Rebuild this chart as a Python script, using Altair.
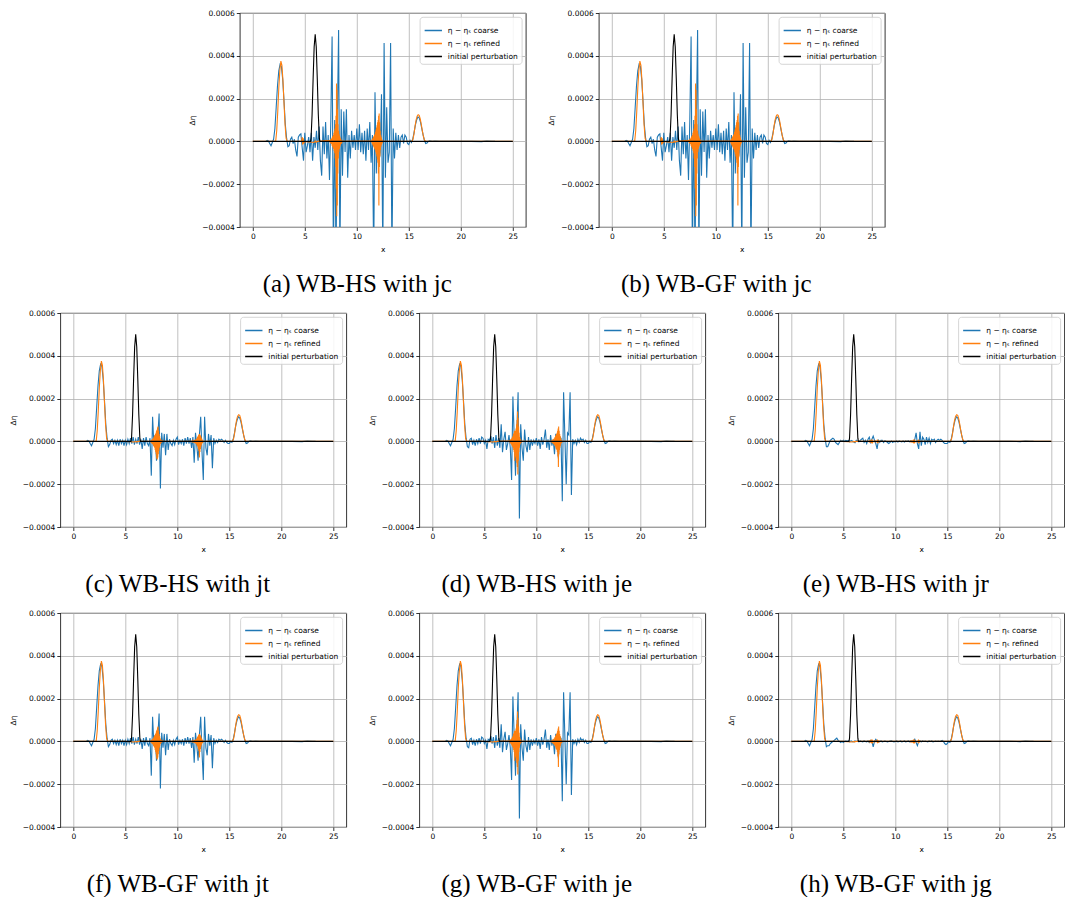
import altair as alt
import pandas as pd

# ---------------- data (values in units of 1e-4) ----------------
SCALE = 1e-4

CAPTIONS = ["(a) WB-HS with jc", "(b) WB-GF with jc", "(c) WB-HS with jt",
            "(d) WB-HS with je", "(e) WB-HS with jr", "(f) WB-GF with jt",
            "(g) WB-GF with je", "(h) WB-GF with jg"]
SERIES = ["η − ηₛ coarse", "η − ηₛ refined", "initial perturbation"]
COLORS = ["#1f77b4", "#ff7f0e", "#000000"]

# initial perturbation
PERT_X = [0.0, 5.55, 5.6, 5.7, 5.8, 5.9, 6.0, 6.1, 6.2, 6.3, 6.4, 6.45, 25.0]
PERT_Y = [0.0, 0.0, 0.15, 1.25, 2.93, 4.42, 5.0, 4.42, 2.93, 1.25, 0.15, 0.0, 0.0]

# coarse: shared left bump and right bump/tail
COARSE_PRE_X = [1.25, 1.375, 1.5, 1.625, 1.75, 1.875, 2.0, 2.125, 2.25, 2.375,
                2.5, 2.625, 2.75, 2.875, 3.0, 3.125, 3.25, 3.375]
COARSE_PRE_Y = [0.0, 0.05, 0.02, -0.1, -0.2, -0.05, 0.1, 0.6, 1.6, 2.6,
                3.3, 3.6, 3.5, 2.9, 1.9, 0.8, 0.15, -0.25]
COARSE_POST_X = [15.375, 15.5, 15.625, 15.75, 15.875, 16.0, 16.125, 16.25, 16.375,
                 16.5, 16.625, 16.75, 16.875, 17.0, 17.25, 17.5, 18.0, 18.5, 19.0,
                 20.0, 21.0, 22.0, 22.5, 23.0, 23.3]
COARSE_POST_Y = [0.1, 0.4, 0.75, 1.0, 1.15, 1.1, 0.9, 0.6, 0.3,
                 0.05, -0.1, -0.08, 0.0, 0.03, 0.0, 0.02, 0.0, 0.01, 0.0,
                 0.005, 0.0, -0.01, 0.02, 0.0, 0.01]

COARSE_MID_X = [3.5, 3.625, 3.75, 3.875,
                4.0, 4.125, 4.25, 4.375, 4.5, 4.625, 4.75, 4.875,
                5.0, 5.125, 5.25, 5.375, 5.5, 5.625, 5.75, 5.875,
                6.0, 6.125, 6.25, 6.375, 6.5, 6.625, 6.75, 6.875,
                7.0, 7.125, 7.25, 7.375, 7.5, 7.625, 7.75, 7.875,
                8.0, 8.125, 8.25, 8.375, 8.5, 8.625, 8.75, 8.875,
                9.0, 9.125, 9.25, 9.375, 9.5, 9.625, 9.75, 9.875,
                10.0, 10.125, 10.25, 10.375, 10.5, 10.625, 10.75, 10.875,
                11.0, 11.125, 11.25, 11.375, 11.5, 11.625, 11.75, 11.875,
                12.0, 12.125, 12.25, 12.375, 12.5, 12.625, 12.75, 12.875,
                13.0, 13.125, 13.25, 13.375, 13.5, 13.625, 13.75, 13.875,
                14.0, 14.125, 14.25, 14.375, 14.5, 14.625, 14.75, 14.875,
                15.0, 15.125, 15.25]

COARSE_JC = [-0.2, 0.1, 0.2, -0.1,
             0.1, -0.4, -0.7, 0.2, 0.3, 0.35, -0.3, -0.9,
             0.4, -0.5, -0.2, 0.2, -0.5, 0.4, -0.9, 0.2,
             -0.3, 0.5, -0.4, 0.7, -0.9, -1.6, 0.7, -0.6,
             0.9, -0.8, 0.3, -1.8, 0.95, 4.9, -5.5, 1.0,
             -5.5, 0.8, 5.2, -5.5, 1.5, -1.6, 1.4, -0.5,
             1.5, -1.7, 0.3, -0.8, 0.5, -0.3, 0.3, -0.4,
             0.6, -0.4, 0.8, -0.5, 0.4, -0.6, 0.5, -0.9,
             0.6, -0.4, 0.9, -1.0, 0.3, -5.5, 2.3, -1.5,
             0.5, -1.0, -0.5, 2.2, -5.5, 4.6, -1.7, 1.6,
             -1.0, -0.5, 4.6, -5.5, 0.6, -0.8, 0.4, -0.4,
             0.3, -0.3, 0.2, 0.3, -0.1, 0.3, 0.2, -0.1,
             -0.15, 0.05, -0.05]

COARSE_JT = [-0.15, 0.05, 0.1, -0.1,
             0.05, -0.15, 0.05, -0.2, 0.1, -0.1, 0.05, -0.2,
             0.05, -0.15, 0.1, -0.1, 0.15, -0.1, 0.2, -0.15,
             0.1, -0.1, 0.2, -0.15, 0.1, -0.35, 0.15, -0.2,
             0.2, -0.1, -0.2, 0.15, -1.6, 1.15, -0.2, 0.3,
             -0.9, 0.2, 1.3, -2.2, 0.4, -0.3, 0.35, -0.65,
             0.35, -0.4, 0.1, -0.1, -0.2, 0.05, -0.15, 0.1,
             0.2, -0.15, 0.05, -0.1, 0.1, -0.2, 0.15, -0.1,
             0.2, -0.1, 0.15, -0.3, 0.2, -1.0, 0.4, -0.2,
             -0.9, 0.3, 1.15, -0.5, -1.8, 1.15, -0.3, -0.65,
             0.35, -0.2, 0.3, -1.25, 0.15, -0.1, 0.05, -0.05,
             0.1, 0.05, 0.1, 0.05, -0.05, 0.05, -0.05, -0.1,
             -0.1, 0.0, -0.05]

COARSE_JE = [-0.3, 0.1, 0.15, -0.15,
             0.05, -0.2, 0.1, -0.1, 0.15, -0.1, 0.2, 0.15,
             -0.1, 0.05, -0.35, 0.1, 0.05, 0.25, -0.1, 0.2,
             -0.3, 0.3, -0.2, 0.15, -0.3, 0.8, -0.5, 0.1,
             0.45, -0.4, -0.1, 0.3, -0.3, -1.8, 2.1, 0.2,
             -1.6, 0.5, 2.3, -3.6, 0.8, -0.3, -0.9, 0.55,
             -0.2, -0.5, 0.2, -0.4, 0.1, -0.2, 0.05, -0.1,
             0.15, -0.2, 0.1, -0.35, 0.2, -0.15, 0.1, 0.55,
             -0.3, 0.1, -0.4, 0.3, -0.2, 0.1, -0.6, 0.35,
             0.1, -0.8, 0.2, 0.15, -2.8, 2.3, 0.2, -2.0,
             0.4, 0.3, 2.3, -2.5, 0.1, -0.1, 0.05, -0.15,
             0.1, -0.05, 0.15, 0.05, 0.1, -0.05, 0.05, -0.1,
             -0.1, 0.0, -0.05]

COARSE_JR = [-0.25, -0.1, 0.05, 0.1,
             0.15, 0.1, -0.05, -0.1, -0.15, -0.05, 0.05, 0.0,
             0.05, 0.0, 0.05, 0.02, 0.05, -0.02, 0.05, 0.02,
             -0.03, -0.06, 0.05, 0.02, -0.02, 0.05, 0.1, 0.15,
             -0.05, 0.05, -0.1, 0.1, 0.2, -0.05, 0.1, 0.25,
             0.05, -0.1, -0.35, 0.05, -0.05, 0.05, 0.05, -0.05,
             0.03, 0.0, -0.05, -0.1, -0.05, 0.02, -0.05, 0.0,
             -0.02, 0.02, -0.03, 0.02, 0.0, -0.02, 0.02, -0.03,
             0.02, 0.0, 0.03, -0.02, 0.02, 0.0, -0.03, 0.1,
             0.4, -0.1, -0.35, 0.45, -0.2, 0.2, 0.1, -0.15,
             0.2, -0.05, 0.15, -0.1, 0.1, 0.05, 0.1, -0.05,
             0.05, 0.1, 0.05, 0.1, 0.05, -0.05, -0.1, -0.1,
             -0.1, 0.0, -0.05]

COARSE_JG = [-0.2, -0.2, -0.1, -0.05,
             0.0, 0.05, 0.1, 0.15, 0.05, 0.0, -0.05, 0.0,
             -0.05, 0.0, 0.02, 0.0, 0.02, -0.02, 0.02, 0.0,
             -0.02, 0.02, 0.0, 0.02, -0.02, 0.02, 0.0, -0.02,
             0.02, 0.0, -0.02, 0.02, -0.05, 0.05, 0.0, -0.25,
             0.0, 0.1, 0.0, -0.03, 0.0, 0.02, -0.02, 0.0,
             0.02, 0.0, -0.02, 0.0, 0.02, 0.03, 0.0, -0.02,
             0.0, 0.02, -0.02, 0.0, 0.02, -0.02, 0.0, 0.02,
             -0.02, 0.0, 0.02, -0.02, 0.0, 0.02, 0.0, 0.1,
             -0.05, -0.2, 0.0, 0.02, -0.02, 0.02, 0.0, 0.02,
             0.0, -0.02, 0.02, 0.0, 0.02, -0.02, 0.0, 0.02,
             0.0, 0.02, 0.0, 0.02, 0.05, 0.0, -0.1, -0.15,
             -0.1, 0.0, -0.05]

# refined: shared bumps
REF_B1_X = [0.0, 2.2, 2.3, 2.4, 2.5, 2.6, 2.7, 2.8, 2.9, 3.0, 3.1, 3.2, 3.3]
REF_B1_Y = [0.0, 0.0, 0.5, 1.4, 2.5, 3.3, 3.75, 3.55, 2.85, 1.8, 0.8, 0.15, 0.0]
REF_B2_X = [15.3, 15.4, 15.5, 15.6, 15.7, 15.8, 15.9, 16.0, 16.1, 16.2, 16.3,
            16.4, 16.5, 16.6, 25.0]
REF_B2_Y = [0.0, 0.1, 0.35, 0.7, 1.0, 1.18, 1.25, 1.22, 1.05, 0.8, 0.5,
            0.25, 0.07, 0.0, 0.0]
REF_BLIP_X = [4.7, 4.75, 4.8, 4.85, 4.9, 4.95, 5.9, 6.0, 6.1, 6.2]
REF_BLIP_JC = [0.0, 0.2, -0.15, 0.15, -0.1, 0.0, -0.05, 0.02, -0.05, 0.0]
REF_BLIP_OTHER = [0.0, 0.0, 0.0, 0.0, 0.0, 0.0, -0.03, 0.0, -0.03, 0.0]

REF_OSC1_X = [7.4, 7.425, 7.45, 7.475, 7.5, 7.525, 7.55, 7.575, 7.6, 7.625, 7.65, 7.675,
              7.7, 7.725, 7.75, 7.775, 7.8, 7.825, 7.85, 7.875, 7.9, 7.925, 7.95, 7.975,
              8.0, 8.025, 8.05, 8.075, 8.1, 8.125, 8.15, 8.175, 8.2, 8.225, 8.25, 8.275,
              8.3, 8.325, 8.35, 8.375, 8.4, 8.425, 8.45, 8.475, 8.5, 8.525, 8.55, 8.575,
              8.6]
REF_OSC2_X = [11.4, 11.425, 11.45, 11.475, 11.5, 11.525, 11.55, 11.575, 11.6, 11.625,
              11.65, 11.675, 11.7, 11.725, 11.75, 11.775, 11.8, 11.825, 11.85, 11.875,
              11.9, 11.925, 11.95, 11.975, 12.0, 12.025, 12.05, 12.075, 12.1, 12.125,
              12.15, 12.175, 12.2, 12.225, 12.25, 12.275, 12.3, 12.325, 12.35, 12.375,
              12.4, 12.425, 12.45, 12.475, 12.5]

REF_OSC1_JC = [0.05, -0.05, 0.08, -0.08, 0.1, -0.1, 0.12, -0.12, 0.15, -0.2,
               0.2, -0.25, 0.25, -0.3, 0.3, -0.35, 0.4, -0.45, 0.5, -0.55,
               0.6, -0.8, 0.8, -1.2, 1.2, -2.2, 2.7, -3.5, 2.4, -3.0,
               1.5, -1.5, 0.8, -0.8, 0.5, -0.5, 0.35, -0.35, 0.25, -0.25,
               0.18, -0.18, 0.12, -0.12, 0.08, -0.08, 0.05, -0.03, 0.0]
REF_OSC2_JC = [0.03, -0.05, 0.08, -0.1, 0.12, -0.15, 0.15, -0.2, 0.2, -0.25,
               0.25, -0.3, 0.3, -0.35, 0.35, -0.4, 0.45, -0.5, 0.55, -0.6,
               0.65, -0.7, 0.75, -0.85, 0.9, -1.0, 1.0, -1.5, 1.2, -3.0,
               1.3, -1.2, 0.9, -0.7, 0.5, -0.4, 0.3, -0.25, 0.2, -0.15,
               0.1, -0.08, 0.05, -0.03, 0.0]
REF_OSC1_JT = [0.02, -0.03, 0.04, -0.05, 0.06, -0.08, 0.08, -0.1, 0.1, -0.12,
               0.12, -0.15, 0.15, -0.2, 0.2, -0.25, 0.25, -0.3, 0.3, -0.4,
               0.35, -0.5, 0.4, -0.6, 0.5, -0.8, 0.55, -0.85, 0.65, -0.75,
               0.7, -0.6, 0.5, -0.45, 0.35, -0.3, 0.25, -0.2, 0.15, -0.12,
               0.1, -0.08, 0.06, -0.05, 0.04, -0.03, 0.02, -0.01, 0.0]
REF_OSC2_JT = [0.0, -0.02, 0.02, -0.03, 0.03, -0.04, 0.04, -0.05, 0.05, -0.06,
               0.06, -0.07, 0.07, -0.08, 0.08, -0.1, 0.1, -0.12, 0.12, -0.15,
               0.15, -0.2, 0.2, -0.25, 0.25, -0.35, 0.3, -0.45, 0.33, -0.75,
               0.35, -0.5, 0.3, -0.35, 0.25, -0.25, 0.18, -0.15, 0.12, -0.1,
               0.07, -0.05, 0.03, -0.02, 0.0]
REF_OSC1_JE = [0.03, -0.04, 0.05, -0.06, 0.07, -0.08, 0.1, -0.12, 0.12, -0.15,
               0.15, -0.2, 0.2, -0.25, 0.25, -0.3, 0.35, -0.4, 0.4, -0.5,
               0.5, -0.9, 0.45, -0.6, 0.5, -0.7, 0.6, -0.8, 0.8, -1.0,
               1.0, -1.2, 1.4, -1.55, 1.1, -0.9, 0.7, -0.5, 0.4, -0.3,
               0.2, -0.15, 0.12, -0.1, 0.08, -0.05, 0.03, -0.02, 0.0]
REF_OSC2_JE = [0.02, -0.03, 0.04, -0.05, 0.05, -0.06, 0.07, -0.08, 0.08, -0.1,
               0.1, -0.12, 0.12, -0.15, 0.15, -0.18, 0.2, -0.22, 0.25, -0.28,
               0.3, -0.35, 0.35, -0.4, 0.4, -0.5, 0.5, -0.7, 0.6, -1.2,
               0.7, -0.6, 0.5, -0.4, 0.35, -0.3, 0.25, -0.2, 0.15, -0.1,
               0.07, -0.05, 0.03, -0.02, 0.0]
REF_OSC1_SMALL = [0.0, 0.0, 0.01, -0.01, 0.01, -0.01, 0.01, -0.01, 0.01, -0.01,
                  0.02, -0.02, 0.02, -0.02, 0.02, -0.02, 0.02, -0.02, 0.03, -0.03,
                  0.03, -0.03, 0.03, -0.03, 0.04, -0.04, 0.04, -0.04, 0.04, -0.04,
                  0.03, -0.03, 0.03, -0.03, 0.02, -0.02, 0.02, -0.02, 0.01, -0.01,
                  0.01, -0.01, 0.01, -0.01, 0.0, 0.0, 0.0, 0.0, 0.0]
REF_OSC2_SMALL = [0.0, 0.0, 0.01, -0.01, 0.01, -0.01, 0.01, -0.01, 0.01, -0.01,
                  0.01, -0.01, 0.02, -0.02, 0.02, -0.02, 0.02, -0.02, 0.02, -0.02,
                  0.03, -0.03, 0.03, -0.03, 0.03, -0.03, 0.03, -0.04, 0.03, -0.04,
                  0.03, -0.03, 0.02, -0.02, 0.02, -0.02, 0.01, -0.01, 0.01, -0.01,
                  0.0, 0.0, 0.0, 0.0, 0.0]

PANEL_DATA = [
    (COARSE_JC, REF_BLIP_JC, REF_OSC1_JC, REF_OSC2_JC),
    (COARSE_JC, REF_BLIP_JC, REF_OSC1_JC, REF_OSC2_JC),
    (COARSE_JT, REF_BLIP_OTHER, REF_OSC1_JT, REF_OSC2_JT),
    (COARSE_JE, REF_BLIP_OTHER, REF_OSC1_JE, REF_OSC2_JE),
    (COARSE_JR, REF_BLIP_OTHER, REF_OSC1_SMALL, REF_OSC2_SMALL),
    (COARSE_JT, REF_BLIP_OTHER, REF_OSC1_JT, REF_OSC2_JT),
    (COARSE_JE, REF_BLIP_OTHER, REF_OSC1_JE, REF_OSC2_JE),
    (COARSE_JG, REF_BLIP_OTHER, REF_OSC1_SMALL, REF_OSC2_SMALL),
]

X_TICKS = [0, 5, 10, 15, 20, 25]
Y_TICKS = [-0.0004, -0.0002, 0.0, 0.0002, 0.0004, 0.0006]

W, H = 286, 214


def frame(xs, ys, name):
    return pd.DataFrame({"x": xs, "y": [v * SCALE for v in ys], "s": name})


def panel(caption, coarse, blip, osc1, osc2):
    df_c = frame(COARSE_PRE_X + COARSE_MID_X + COARSE_POST_X,
                 COARSE_PRE_Y + coarse + COARSE_POST_Y, SERIES[0])
    df_r = frame(REF_B1_X + REF_BLIP_X + REF_OSC1_X + REF_OSC2_X + REF_B2_X,
                 REF_B1_Y + blip + osc1 + osc2 + REF_B2_Y, SERIES[1])
    df_p = frame(PERT_X, PERT_Y, SERIES[2])

    color = alt.Color("s:N", scale=alt.Scale(domain=SERIES, range=COLORS),
                      legend=alt.Legend(title=None, orient="top-right"))
    xenc = alt.X("x:Q", scale=alt.Scale(domain=[-1.25, 26.25], nice=False, zero=False),
                 axis=alt.Axis(values=X_TICKS, format="d", title="x"))
    yenc = alt.Y("y:Q", scale=alt.Scale(domain=[-0.0004, 0.0006], nice=False, zero=False),
                 axis=alt.Axis(values=Y_TICKS, format=".4f", title="Δη"))

    def line(df):
        return alt.Chart(df).mark_line(strokeWidth=1.1, clip=True).encode(
            x=xenc, y=yenc, color=color, order=alt.Order("x:Q"))

    return alt.layer(line(df_c), line(df_r), line(df_p)).properties(
        width=W, height=H,
        title=alt.TitleParams(caption, orient="bottom", anchor="middle", frame="bounds",
                              font="Liberation Serif", fontSize=25, fontWeight="normal",
                              color="#000", offset=19))


panels = [panel(c, *d) for c, d in zip(CAPTIONS, PANEL_DATA)]

row1 = alt.hconcat(panels[0], panels[1], spacing=20).resolve_legend(color="independent")
row2 = alt.hconcat(panels[2], panels[3], panels[4], spacing=20).resolve_legend(color="independent")
row3 = alt.hconcat(panels[5], panels[6], panels[7], spacing=20).resolve_legend(color="independent")

chart = alt.vconcat(row1, row2, row3, spacing=11, center=True).resolve_legend(
    color="independent"
).properties(
    padding={"left": 0, "top": 0, "right": 0, "bottom": 0}
).configure(
    background="white"
).configure_view(
    stroke="#000", strokeWidth=0.8
).configure_axis(
    labelFont="DejaVu Sans", labelFontSize=7.5, labelColor="#000",
    titleFont="DejaVu Sans", titleFontSize=7.5, titleFontWeight="normal", titleColor="#000",
    tickColor="#000", tickSize=3.5, tickWidth=0.8, domain=False,
    gridColor="#b0b0b0", gridWidth=0.8, labelPadding=2, titlePadding=5
).configure_legend(
    offset=4, padding=4, fillColor="rgba(255,255,255,0.85)", strokeColor="#cccccc",
    strokeWidth=0.8, cornerRadius=3, labelFont="DejaVu Sans", labelFontSize=7.5,
    labelColor="#000", symbolType="stroke", symbolSize=300, symbolStrokeWidth=1.5,
    rowPadding=0, labelOffset=5
)

chart.save("out.html", embed_options={"renderer": "svg", "actions": False})
